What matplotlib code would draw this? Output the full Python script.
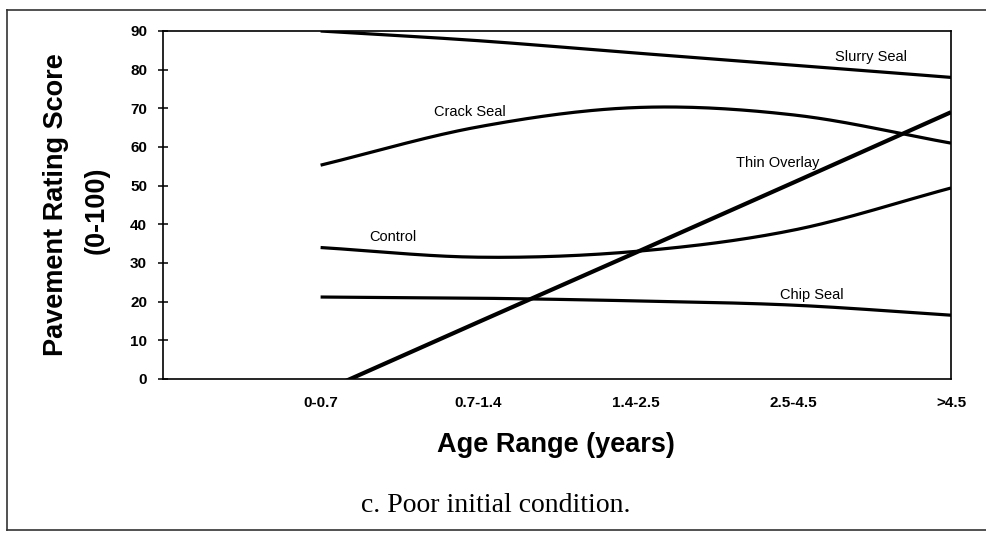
import matplotlib.pyplot as plt
import numpy as np
from matplotlib.lines import Line2D

plt.rcParams["font.family"] = ["Liberation Sans", "DejaVu Sans"]

# ---- data (score at each age class) ----
ages = ['0-0.7', '0.7-1.4', '1.4-2.5', '2.5-4.5', '>4.5']
slurry_seal  = [90.0, 87.5, 84.3, 81.2, 78.0]
crack_seal   = [55.3, 65.2, 70.2, 68.3, 61.0]
thin_overlay = [-3.4, 14.7, 32.7, 50.8, 69.0]
control      = [34.0, 31.5, 33.0, 38.5, 49.4]
chip_seal    = [21.2, 20.9, 20.2, 19.1, 16.5]

x_pos = np.arange(1, len(ages) + 1)


def smooth(x, y, n=40):
    # catmull-rom curve through the points (like excel "smoothed line")
    x = np.asarray(x, float)
    y = np.asarray(y, float)
    px = np.concatenate([[2 * x[0] - x[1]], x, [2 * x[-1] - x[-2]]])
    py = np.concatenate([[2 * y[0] - y[1]], y, [2 * y[-1] - y[-2]]])
    xs, ys = [], []
    t = np.linspace(0, 1, n)
    for i in range(1, len(px) - 2):
        for arr, out in ((px, xs), (py, ys)):
            p0, p1, p2, p3 = arr[i - 1], arr[i], arr[i + 1], arr[i + 2]
            out.extend(0.5 * ((2 * p1) + (-p0 + p2) * t
                              + (2 * p0 - 5 * p1 + 4 * p2 - p3) * t ** 2
                              + (-p0 + 3 * p1 - 3 * p2 + p3) * t ** 3))
    return np.array(xs), np.array(ys)


fig = plt.figure(figsize=(9.87, 5.37), dpi=100)
ax = fig.add_axes([163 / 987, 1 - 379 / 537, (951 - 163) / 987, (379 - 31) / 537])

for series in (slurry_seal, crack_seal, control, chip_seal):
    sx, sy = smooth(x_pos, series)
    ax.plot(sx, sy, color='black', lw=2.3, solid_capstyle='butt')
ax.plot(x_pos, thin_overlay, color='black', lw=3.0, solid_capstyle='butt')

# series labels
lab_kw = dict(fontsize=10.5, ha='center', va='center')
ax.text(4.49, 83.3, 'Slurry Seal', **lab_kw)
ax.text(1.95, 69.0, 'Crack Seal', **lab_kw)
ax.text(3.90, 55.8, 'Thin Overlay', **lab_kw)
ax.text(1.46, 36.7, 'Control', **lab_kw)
ax.text(4.12, 21.7, 'Chip Seal', **lab_kw)

ax.set_xlim(0, 5)
ax.set_ylim(0, 90)
ax.set_yticks(np.arange(0, 91, 10))
ax.set_xticks(x_pos)
ax.set_xticklabels(ages)
ax.tick_params(axis='x', length=0, pad=12, labelsize=11)
ax.tick_params(axis='y', direction='inout', length=7, width=1.1, pad=8, labelsize=11)
for lbl in ax.get_xticklabels() + ax.get_yticklabels():
    lbl.set_fontweight('bold')
for sp in ax.spines.values():
    sp.set_linewidth(1.2)

# axis titles
fig.text(56 / 987, 1 - 205 / 537, 'Pavement Rating Score', rotation=90,
         fontsize=19.5, fontweight='bold', ha='center', va='center')
fig.text(97 / 987, 1 - 210 / 537, '(0-100)', rotation=90,
         fontsize=19.5, fontweight='bold', ha='center', va='center')
fig.text(556 / 987, 1 - 445 / 537, 'Age Range (years)',
         fontsize=19.5, fontweight='bold', ha='center', va='center')

# caption
fig.text(496 / 987, 1 - 505 / 537, 'c. Poor initial condition.',
         family=['Liberation Serif', 'DejaVu Serif'], fontsize=20,
         ha='center', va='center')

# page frame (left, top, bottom; open on the right edge)
x0, y_top, y_bot = 7 / 987, 1 - 10 / 537, 1 - 530 / 537
for xs, ys in (([x0, x0], [y_bot, y_top]),
               ([x0, 1.0], [y_top, y_top]),
               ([x0, 1.0], [y_bot, y_bot])):
    fig.add_artist(Line2D(xs, ys, transform=fig.transFigure,
                          color='#333333', lw=1.2))

fig.savefig('out.png', dpi=100)
